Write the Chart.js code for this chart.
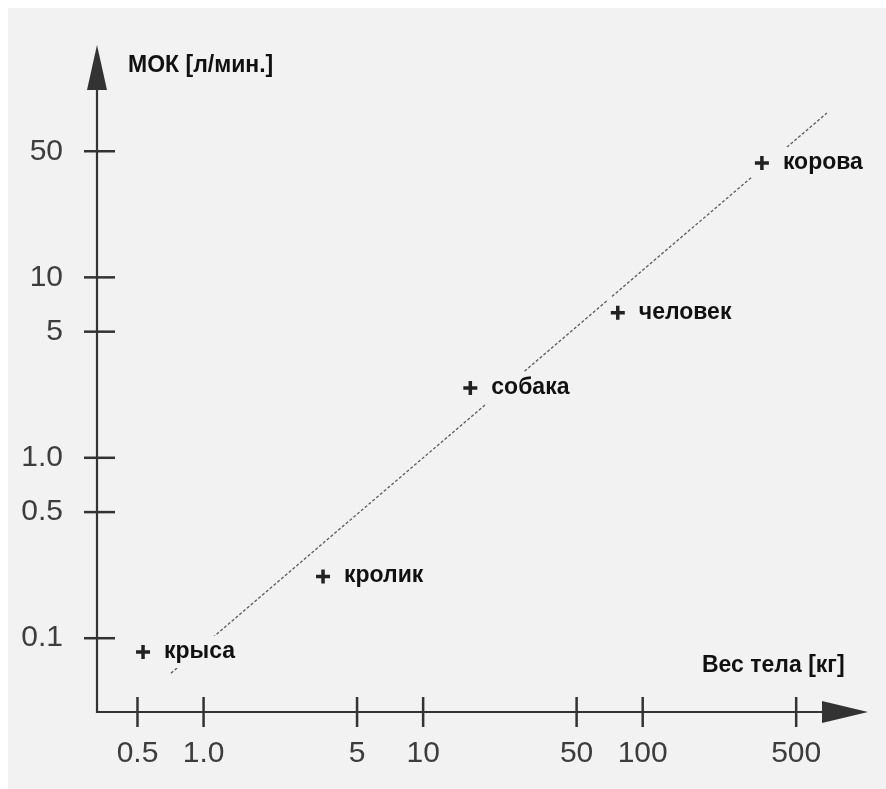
<!DOCTYPE html>
<html>
<head>
<meta charset="utf-8">
<script src="https://cdn.jsdelivr.net/npm/chart.js@4"></script>
<style>
  body { margin: 0; background: #fff; }
  #wrap { width: 886px; height: 789px; }
</style>
</head>
<body>
<div id="wrap"><canvas id="myChart"></canvas></div>
<script>
// animals and their values (log-log)
const animals = ["крыса", "кролик", "собака", "человек", "корова"];
const bodyWeight = [0.53, 3.5, 16.4, 77, 349];
const cardiacOutput = [0.084, 0.22, 2.44, 6.36, 43];

// dashed trend line, two ends
const trendWeight = [0.71, 690];
const trendOutput = [0.064, 81.5];

const xTicks = [0.5, 1, 5, 10, 50, 100, 500];
const xTickLabels = ["0.5", "1.0", "5", "10", "50", "100", "500"];
const yTicks = [0.1, 0.5, 1, 5, 10, 50];
const yTickLabels = ["0.1", "0.5", "1.0", "5", "10", "50"];

const xTitle = "Вес тела [кг]";
const yTitle = "МОК [л/мин.]";

const BG = "#f2f2f2";
const INK = "#333";
const FONT = "'Liberation Sans', Arial, sans-serif";

const axesPlugin = {
  id: "axesPlugin",
  beforeDraw(chart) {
    const ctx = chart.ctx;
    ctx.save();
    ctx.fillStyle = "#fff";
    ctx.fillRect(0, 0, chart.width, chart.height);
    ctx.fillStyle = BG;
    ctx.fillRect(8, 8, chart.width - 8, chart.height - 8);
    ctx.restore();
  },
  afterDatasetDraw(chart, args) {
    // blank the trend line behind the labels, like the print
    if (args.index !== 1) return;
    const ctx = chart.ctx;
    const meta = chart.getDatasetMeta(0);
    ctx.save();
    ctx.font = "bold 23px " + FONT;
    meta.data.forEach((pt, i) => {
      const w = ctx.measureText(animals[i]).width;
      ctx.fillStyle = BG;
      ctx.fillRect(pt.x - 10, pt.y - 16, w + 34, 32);
    });
    ctx.restore();
  },
  afterDraw(chart) {
    const ctx = chart.ctx;
    const a = chart.chartArea;
    const xs = chart.scales.x;
    const ys = chart.scales.y;
    ctx.save();
    ctx.strokeStyle = INK;
    ctx.fillStyle = INK;
    ctx.lineWidth = 2.2;

    // axes lines
    ctx.beginPath();
    ctx.moveTo(a.left, a.top + 40);
    ctx.lineTo(a.left, a.bottom);
    ctx.lineTo(a.right - 40, a.bottom);
    ctx.stroke();

    // arrow heads
    ctx.beginPath();
    ctx.moveTo(a.left, a.top);
    ctx.lineTo(a.left - 10, a.top + 45);
    ctx.lineTo(a.left + 10, a.top + 45);
    ctx.closePath();
    ctx.fill();
    ctx.beginPath();
    ctx.moveTo(a.right, a.bottom);
    ctx.lineTo(a.right - 46, a.bottom - 11);
    ctx.lineTo(a.right - 46, a.bottom + 11);
    ctx.closePath();
    ctx.fill();

    // tick marks crossing the axes
    ctx.lineWidth = 2.5;
    yTicks.forEach((v) => {
      const y = ys.getPixelForValue(v);
      ctx.beginPath();
      ctx.moveTo(a.left - 13, y);
      ctx.lineTo(a.left + 18, y);
      ctx.stroke();
    });
    xTicks.forEach((v) => {
      const x = xs.getPixelForValue(v);
      ctx.beginPath();
      ctx.moveTo(x, a.bottom - 15);
      ctx.lineTo(x, a.bottom + 15);
      ctx.stroke();
    });

    // axis titles
    ctx.fillStyle = "#111";
    ctx.font = "bold 23px " + FONT;
    ctx.textAlign = "left";
    ctx.textBaseline = "alphabetic";
    ctx.fillText(yTitle, a.left + 31, 72);
    ctx.fillText(xTitle, 702, a.bottom - 40);

    // point labels
    const meta = chart.getDatasetMeta(0);
    meta.data.forEach((pt, i) => {
      ctx.fillText(animals[i], pt.x + 21, pt.y + 6);
    });
    ctx.restore();
  },
};

function mainEvent() {
  const target = document.querySelector("#myChart");
  const points = bodyWeight.map((w, i) => ({ x: w, y: cardiacOutput[i] }));
  const trend = trendWeight.map((w, i) => ({ x: w, y: trendOutput[i] }));

  new Chart(target, {
    type: "scatter",
    data: {
      datasets: [
        {
          label: "animals",
          data: points,
          pointStyle: "cross",
          pointRadius: 7,
          pointBorderWidth: 3.5,
          borderColor: "#222",
          backgroundColor: "#222",
          showLine: false,
        },
        {
          label: "trend",
          data: trend,
          showLine: true,
          pointRadius: 0,
          borderColor: "#5a5a5a",
          borderWidth: 1.3,
          borderDash: [3, 2],
        },
      ],
    },
    options: {
      responsive: true,
      maintainAspectRatio: false,
      animation: false,
      layout: { padding: { top: 45, right: 18, left: 0, bottom: 0 } },
      plugins: {
        legend: { display: false },
        tooltip: { enabled: false },
      },
      scales: {
        x: {
          type: "logarithmic",
          bounds: "data",
          min: 0.327,
          max: 1062,
          grid: { display: false, drawTicks: false },
          border: { display: false },
          afterBuildTicks: (scale) => {
            scale.ticks = xTicks.map((v) => ({ value: v }));
          },
          afterFit: (scale) => {
            scale.height = 77;
            scale.paddingLeft = 0;
            scale.paddingRight = 0;
          },
          ticks: {
            autoSkip: false,
            maxRotation: 0,
            padding: 24,
            color: "#3d3d3d",
            font: { family: FONT, size: 30 },
            callback: (v) => {
              const i = xTicks.indexOf(v);
              return i >= 0 ? xTickLabels[i] : "";
            },
          },
        },
        y: {
          type: "logarithmic",
          bounds: "data",
          min: 0.039,
          max: 194,
          grid: { display: false, drawTicks: false },
          border: { display: false },
          afterBuildTicks: (scale) => {
            scale.ticks = yTicks.map((v) => ({ value: v }));
          },
          afterFit: (scale) => {
            scale.width = 97;
            scale.paddingTop = 0;
            scale.paddingBottom = 0;
          },
          ticks: {
            autoSkip: false,
            padding: 34,
            color: "#3d3d3d",
            font: { family: FONT, size: 30 },
            callback: (v) => {
              const i = yTicks.indexOf(v);
              return i >= 0 ? yTickLabels[i] : "";
            },
          },
        },
      },
    },
    plugins: [axesPlugin],
  });
}

document.addEventListener("DOMContentLoaded", () => mainEvent());
</script>
</body>
</html>
